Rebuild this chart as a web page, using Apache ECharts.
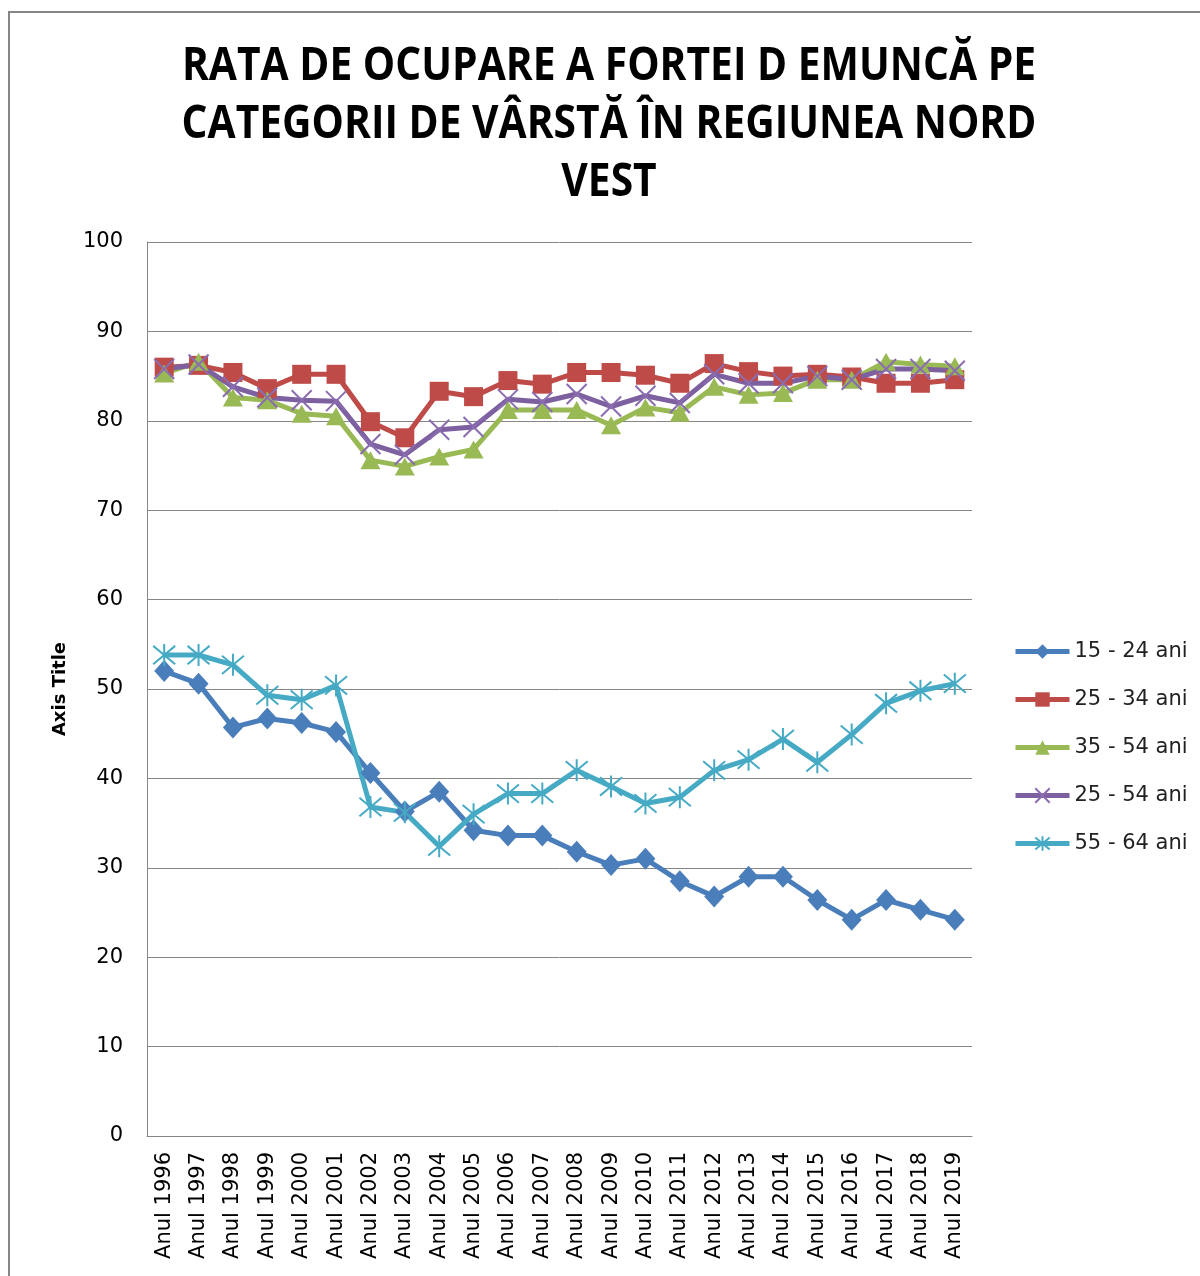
<!DOCTYPE html>
<html lang="ro">
<head>
    <meta charset="UTF-8">
    <title>Rata de ocupare</title>
    <style>
        body { margin: 0; background: #fff; }
        #frame { position: absolute; left: 8px; top: 11px; width: 1200px; height: 1280px; border-left: 2px solid #868686; border-top: 2px solid #868686; }
        #container { position: absolute; left: 0; top: 0; width: 1200px; height: 1276px; }
    </style>
</head>
<body>
<div id="frame"></div>
<div id="container"></div>
<script src="https://cdn.jsdelivr.net/npm/echarts@6/dist/echarts.min.js"></script>
<script type="text/javascript">
    // date
    var ani = ['Anul 1996','Anul 1997','Anul 1998','Anul 1999','Anul 2000','Anul 2001','Anul 2002','Anul 2003',
        'Anul 2004','Anul 2005','Anul 2006','Anul 2007','Anul 2008','Anul 2009','Anul 2010','Anul 2011',
        'Anul 2012','Anul 2013','Anul 2014','Anul 2015','Anul 2016','Anul 2017','Anul 2018','Anul 2019'];
    var v15_24 = [52.0,50.6,45.7,46.7,46.2,45.2,40.6,36.3,38.5,34.2,33.6,33.6,31.8,30.3,31.0,28.5,26.8,29.0,29.0,26.4,24.2,26.4,25.3,24.2];
    var v25_34 = [86.0,86.2,85.4,83.6,85.2,85.2,79.9,78.1,83.3,82.7,84.5,84.1,85.4,85.4,85.1,84.2,86.4,85.5,85.0,85.2,84.9,84.2,84.2,84.6];
    var v35_54 = [85.3,86.6,82.6,82.3,80.8,80.5,75.6,74.9,76.0,76.8,81.2,81.2,81.2,79.5,81.5,80.9,83.8,82.9,83.1,84.6,84.6,86.6,86.3,86.1];
    var v25_54 = [85.8,86.3,83.8,82.6,82.3,82.2,77.4,76.2,79.0,79.3,82.4,82.1,83.0,81.6,82.8,82.0,85.2,84.2,84.2,85.0,84.6,85.8,85.8,85.6];
    var v55_64 = [53.8,53.8,52.7,49.3,48.8,50.4,36.8,36.2,32.4,36.0,38.3,38.3,40.9,39.1,37.2,37.9,40.9,42.1,44.4,41.8,44.9,48.4,49.8,50.6];
    var yTicks = [0,10,20,30,40,50,60,70,80,90,100];

    var titlu = ['RATA DE OCUPARE A FORTEI D EMUNCĂ PE', 'CATEGORII DE VÂRSTĂ ÎN REGIUNEA NORD', 'VEST'];

    var crossPath = 'path://M0,0L10,10M10,0L0,10';
    var starPath = 'path://M0,0L10,10M10,0L0,10M5,-1L5,11';

    var myChart = echarts.init(document.getElementById('container'));
    var font = '"DejaVu Sans", sans-serif';

    function serie(name, data, color, symbol, size, extra) {
        var s = {
            name: name,
            type: 'line',
            data: data,
            symbol: symbol,
            symbolSize: size,
            lineStyle: { color: color, width: 5 },
            itemStyle: { color: color },
            z: 2
        };
        if (extra) {
            s.itemStyle = extra;
        }
        return s;
    }

    var option = {
        animation: false,
        textStyle: { fontFamily: font },
        // titlul pe 3 randuri, ingustat ca sa semene cu Calibri
        graphic: titlu.map(function (t, i) {
            return {
                type: 'text',
                x: 609,
                y: 44 + i * 58,
                scaleX: 0.886,
                style: {
                    text: t,
                    font: 'bold 46px "Open Sans", sans-serif',
                    fill: '#000',
                    align: 'center',
                    verticalAlign: 'top'
                }
            };
        }),
        legend: {
            orient: 'vertical',
            left: 1008,
            top: 636,
            itemWidth: 54,
            itemHeight: 18,
            itemGap: 27,
            lineStyle: { width: 5 },
            textStyle: { fontSize: 21, color: '#222', fontFamily: font }
        },
        grid: { left: 147, top: 242, right: 228, bottom: 140, containLabel: false },
        xAxis: {
            type: 'category',
            data: ani,
            boundaryGap: true,
            axisLine: { lineStyle: { color: '#868686', width: 1 } },
            axisTick: { show: false },
            axisLabel: { rotate: 90, fontSize: 21, color: '#000', margin: 16, fontFamily: font }
        },
        yAxis: {
            type: 'value',
            min: yTicks[0],
            max: yTicks[yTicks.length - 1],
            interval: 10,
            name: 'Axis Title',
            nameLocation: 'middle',
            nameGap: 78,
            nameTextStyle: { fontSize: 18, fontWeight: 'bold', color: '#000', fontFamily: font },
            axisLine: { show: true, lineStyle: { color: '#868686', width: 1 } },
            axisTick: { show: false },
            splitLine: { lineStyle: { color: '#868686', width: 1 } },
            axisLabel: { fontSize: 21, color: '#000', margin: 24, fontFamily: font }
        },
        series: [
            serie('15 - 24 ani', v15_24, '#4a7ebb', 'diamond', [20, 22]),
            serie('25 - 34 ani', v25_34, '#be4b48', 'rect', 19),
            serie('35 - 54 ani', v35_54, '#98b954', 'triangle', [20, 18]),
            serie('25 - 54 ani', v25_54, '#7d60a0', crossPath, 20,
                { color: 'rgba(0,0,0,0)', borderColor: '#8a6cb0', borderWidth: 2 }),
            serie('55 - 64 ani', v55_64, '#46aac5', starPath, 22,
                { color: 'rgba(0,0,0,0)', borderColor: '#46aac5', borderWidth: 2 })
        ]
    };

    if (option && typeof option === "object") {
        myChart.setOption(option, true);
    }
</script>
</body>
</html>
